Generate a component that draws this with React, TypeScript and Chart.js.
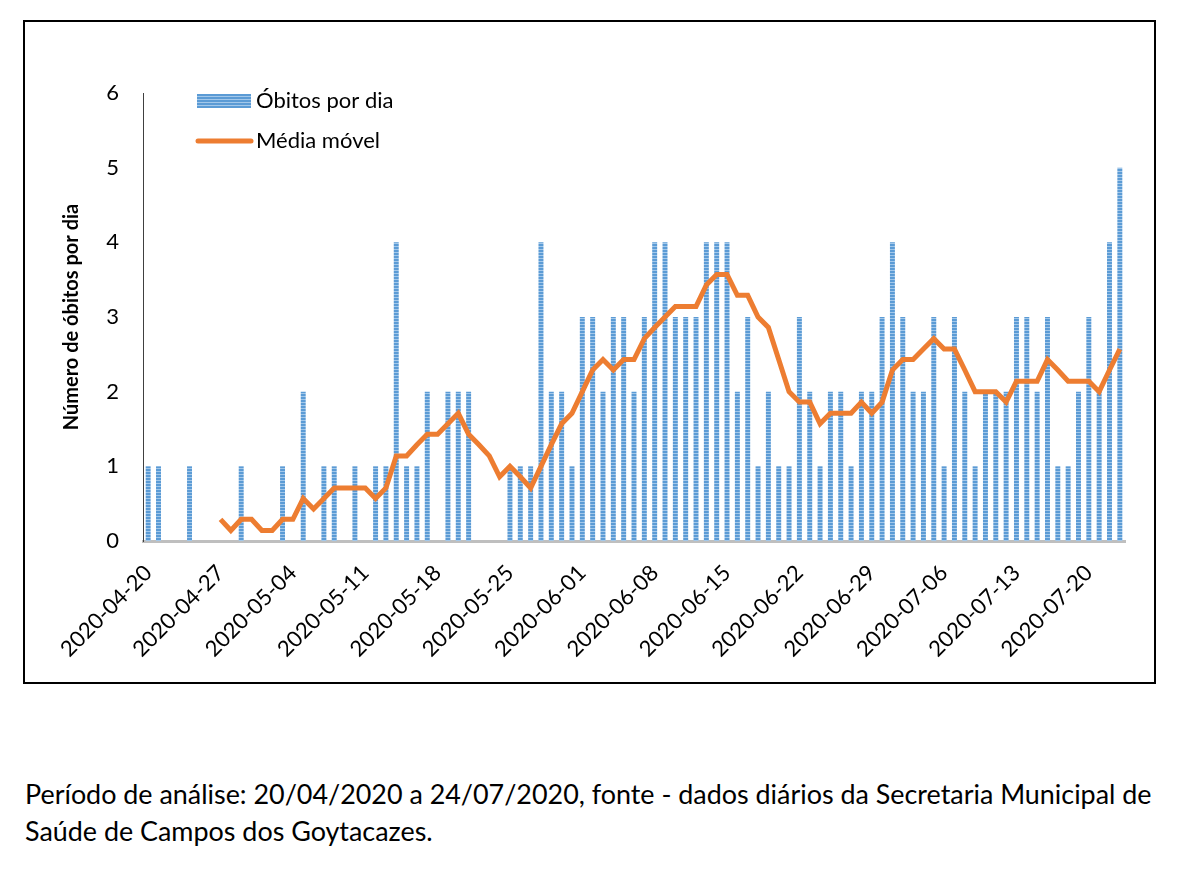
import { useEffect, useRef } from "react"
import { Chart, registerables } from "chart.js"
import type { Plugin } from "chart.js"

Chart.register(...registerables)

// one category per day, 20/04/2020 .. 23/07/2020
const days = [
  "2020-04-20", "2020-04-21", "2020-04-22", "2020-04-23", "2020-04-24", "2020-04-25", "2020-04-26",
  "2020-04-27", "2020-04-28", "2020-04-29", "2020-04-30", "2020-05-01", "2020-05-02", "2020-05-03",
  "2020-05-04", "2020-05-05", "2020-05-06", "2020-05-07", "2020-05-08", "2020-05-09", "2020-05-10",
  "2020-05-11", "2020-05-12", "2020-05-13", "2020-05-14", "2020-05-15", "2020-05-16", "2020-05-17",
  "2020-05-18", "2020-05-19", "2020-05-20", "2020-05-21", "2020-05-22", "2020-05-23", "2020-05-24",
  "2020-05-25", "2020-05-26", "2020-05-27", "2020-05-28", "2020-05-29", "2020-05-30", "2020-05-31",
  "2020-06-01", "2020-06-02", "2020-06-03", "2020-06-04", "2020-06-05", "2020-06-06", "2020-06-07",
  "2020-06-08", "2020-06-09", "2020-06-10", "2020-06-11", "2020-06-12", "2020-06-13", "2020-06-14",
  "2020-06-15", "2020-06-16", "2020-06-17", "2020-06-18", "2020-06-19", "2020-06-20", "2020-06-21",
  "2020-06-22", "2020-06-23", "2020-06-24", "2020-06-25", "2020-06-26", "2020-06-27", "2020-06-28",
  "2020-06-29", "2020-06-30", "2020-07-01", "2020-07-02", "2020-07-03", "2020-07-04", "2020-07-05",
  "2020-07-06", "2020-07-07", "2020-07-08", "2020-07-09", "2020-07-10", "2020-07-11", "2020-07-12",
  "2020-07-13", "2020-07-14", "2020-07-15", "2020-07-16", "2020-07-17", "2020-07-18", "2020-07-19",
  "2020-07-20", "2020-07-21", "2020-07-22", "2020-07-23",
]

// labels shown on the x axis (one per week)
const weekTicks = [
  "2020-04-20", "2020-04-27", "2020-05-04", "2020-05-11", "2020-05-18", "2020-05-25", "2020-06-01",
  "2020-06-08", "2020-06-15", "2020-06-22", "2020-06-29", "2020-07-06", "2020-07-13", "2020-07-20",
]

const obitosPorDia = [
  1, 1, 0, 0, 1, 0, 0,
  0, 0, 1, 0, 0, 0, 1,
  0, 2, 0, 1, 1, 0, 1,
  0, 1, 1, 4, 1, 1, 2,
  0, 2, 2, 2, 0, 0, 0,
  1, 1, 1, 4, 2, 2, 1,
  3, 3, 2, 3, 3, 2, 3,
  4, 4, 3, 3, 3, 4, 4,
  4, 2, 3, 1, 2, 1, 1,
  3, 2, 1, 2, 2, 1, 2,
  2, 3, 4, 3, 2, 2, 3,
  1, 3, 2, 1, 2, 2, 2,
  3, 3, 2, 3, 1, 1, 2,
  3, 2, 4, 5,
]

const mediaMovel = [
  null, null, null, null, null, null, null,
  0.29, 0.14, 0.29, 0.29, 0.14, 0.14, 0.29,
  0.29, 0.57, 0.43, 0.57, 0.71, 0.71, 0.71,
  0.71, 0.57, 0.71, 1.14, 1.14, 1.29, 1.43,
  1.43, 1.57, 1.71, 1.43, 1.29, 1.14, 0.86,
  1.0, 0.86, 0.71, 1.0, 1.29, 1.57, 1.71,
  2.0, 2.29, 2.43, 2.29, 2.43, 2.43, 2.71,
  2.86, 3.0, 3.14, 3.14, 3.14, 3.43, 3.57,
  3.57, 3.29, 3.29, 3.0, 2.86, 2.43, 2.0,
  1.86, 1.86, 1.57, 1.71, 1.71, 1.71, 1.86,
  1.71, 1.86, 2.29, 2.43, 2.43, 2.57, 2.71,
  2.57, 2.57, 2.29, 2.0, 2.0, 2.0, 1.86,
  2.14, 2.14, 2.14, 2.43, 2.29, 2.14, 2.14,
  2.14, 2.0, 2.29, 2.57,
]

const FONT = "Lato, 'Open Sans', sans-serif"
const BLUE = "#5B9BD5"
const ORANGE = "#ED7D31"

// horizontal striped fill, like the Excel texture on the bars
function makeStripes(): CanvasPattern | string {
  const c = document.createElement("canvas")
  c.width = 4
  c.height = 3
  const ctx = c.getContext("2d")
  if (!ctx) return BLUE
  ctx.fillStyle = BLUE
  ctx.fillRect(0, 0, 4, 3)
  ctx.fillStyle = "#A3C8EA"
  ctx.fillRect(0, 2, 4, 1)
  return ctx.createPattern(c, "repeat") ?? BLUE
}

// legend stacked in the upper left corner of the plot
const stackedLegend: Plugin = {
  id: "stackedLegend",
  afterDraw(chart) {
    const { ctx, chartArea } = chart
    const x = chartArea.left + 54
    const y = chartArea.top + 8
    const barFill = chart.data.datasets[1].backgroundColor as CanvasPattern | string
    ctx.save()
    ctx.fillStyle = barFill
    ctx.fillRect(x, y - 7, 54, 14)
    ctx.strokeStyle = ORANGE
    ctx.lineWidth = 5
    ctx.lineCap = "round"
    ctx.beginPath()
    ctx.moveTo(x + 1, y + 40)
    ctx.lineTo(x + 54, y + 40)
    ctx.stroke()
    ctx.fillStyle = "#000"
    ctx.font = `22px ${FONT}`
    ctx.textBaseline = "middle"
    ctx.fillText(chart.data.datasets[1].label ?? "", x + 59, y)
    ctx.fillText(chart.data.datasets[0].label ?? "", x + 59, y + 40)
    ctx.restore()
  },
}

export default function App() {
  const chartRef = useRef<HTMLCanvasElement>(null)
  const chartInstance = useRef<Chart | null>(null)

  useEffect(() => {
    if (!chartRef.current) return
    if (chartInstance.current) chartInstance.current.destroy()

    chartInstance.current = new Chart(chartRef.current, {
      type: "bar",
      data: {
        labels: days,
        datasets: [
          {
            type: "line",
            label: "Média móvel",
            data: mediaMovel,
            borderColor: ORANGE,
            backgroundColor: ORANGE,
            borderWidth: 5,
            pointRadius: 0,
            tension: 0,
            order: 0,
          },
          {
            type: "bar",
            label: "Óbitos por dia",
            data: obitosPorDia,
            backgroundColor: makeStripes(),
            borderWidth: 0,
            categoryPercentage: 1,
            barPercentage: 0.48,
            order: 1,
          },
        ],
      },
      options: {
        responsive: true,
        maintainAspectRatio: false,
        animation: false,
        events: [],
        layout: { padding: { top: 71, right: 29, bottom: 0, left: 0 } },
        plugins: {
          legend: { display: false },
          tooltip: { enabled: false },
        },
        scales: {
          x: {
            grid: { display: false, drawTicks: false },
            border: { display: true, color: "#BFBFBF", width: 3 },
            ticks: {
              autoSkip: false,
              maxRotation: 45,
              minRotation: 45,
              padding: 19,
              color: "#000",
              font: { family: FONT, size: 22 },
              callback: (_value, index) => (weekTicks.includes(days[index]) ? days[index] : ""),
            },
            afterFit: (scale) => {
              scale.height = 141
              scale.paddingRight = 0
            },
          },
          y: {
            min: 0,
            max: 6,
            grid: { display: false, drawTicks: false },
            border: { display: true, color: "#404040", width: 1 },
            ticks: {
              stepSize: 1,
              padding: 24,
              color: "#000",
              font: { family: FONT, size: 22 },
            },
            title: {
              display: true,
              text: "Número de óbitos por dia",
              color: "#000",
              padding: { top: 35, bottom: 0 },
              font: { family: FONT, size: 20, weight: "bold" },
            },
            afterFit: (scale) => {
              scale.width = 118
            },
          },
        },
      },
      plugins: [stackedLegend],
    })

    return () => {
      if (chartInstance.current) {
        chartInstance.current.destroy()
        chartInstance.current = null
      }
    }
  }, [])

  return (
    <div style={{ position: "relative", width: 1174, height: 864, fontFamily: FONT, background: "#fff" }}>
      <div
        style={{
          position: "absolute",
          left: 15,
          top: 12,
          width: 1133,
          height: 664,
          boxSizing: "border-box",
          border: "2px solid #000",
        }}
      >
        <div style={{ width: 1129, height: 660 }}>
          <canvas ref={chartRef}></canvas>
        </div>
      </div>
      <div
        style={{
          position: "absolute",
          left: 17,
          top: 767,
          width: 1160,
          fontSize: 26.9,
          lineHeight: "37px",
          color: "#000",
          whiteSpace: "nowrap",
        }}
      >
        Período de análise: 20/04/2020 a 24/07/2020, fonte - dados diários da Secretaria Municipal de
        <br />
        Saúde de Campos dos Goytacazes.
      </div>
    </div>
  )
}
